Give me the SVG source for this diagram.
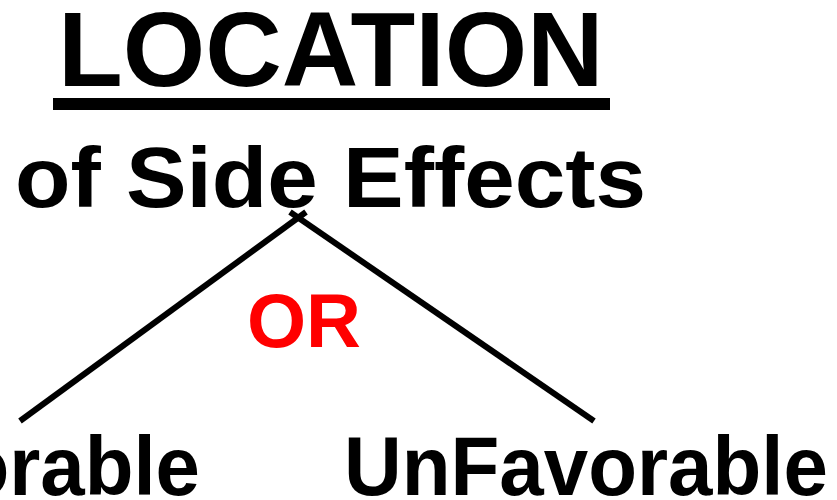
<svg xmlns="http://www.w3.org/2000/svg" width="837" height="500" viewBox="0 0 837 500">
<style>
text{font-family:"Liberation Sans",Arial,sans-serif;font-weight:bold;fill:#000}
.red{fill:#FF0000}
.ln{stroke:#000;stroke-width:6;fill:none;stroke-linecap:butt}
</style>
<rect width="837" height="500" fill="#fff"/>
<g id="title">
<text x="58" y="86" font-size="106">LOCATION</text>
<rect x="53" y="98" width="557" height="12" fill="#000"/>
</g>
<g id="subtitle">
<text x="15" y="207" font-size="86" textLength="631" lengthAdjust="spacingAndGlyphs">of Side Effects</text>
</g>
<g id="connectors">
<line class="ln" x1="20" y1="421" x2="306" y2="212"/>
<line class="ln" x1="290" y1="212" x2="594" y2="421"/>
</g>
<g id="or">
<text class="red" x="247" y="347" font-size="76">OR</text>
</g>
<g id="favorable">
<text x="-177" y="495" font-size="84" textLength="377" lengthAdjust="spacingAndGlyphs">Favorable</text>
</g>
<g id="unfavorable">
<text x="344" y="495" font-size="84" textLength="484" lengthAdjust="spacingAndGlyphs">UnFavorable</text>
</g>
</svg>
